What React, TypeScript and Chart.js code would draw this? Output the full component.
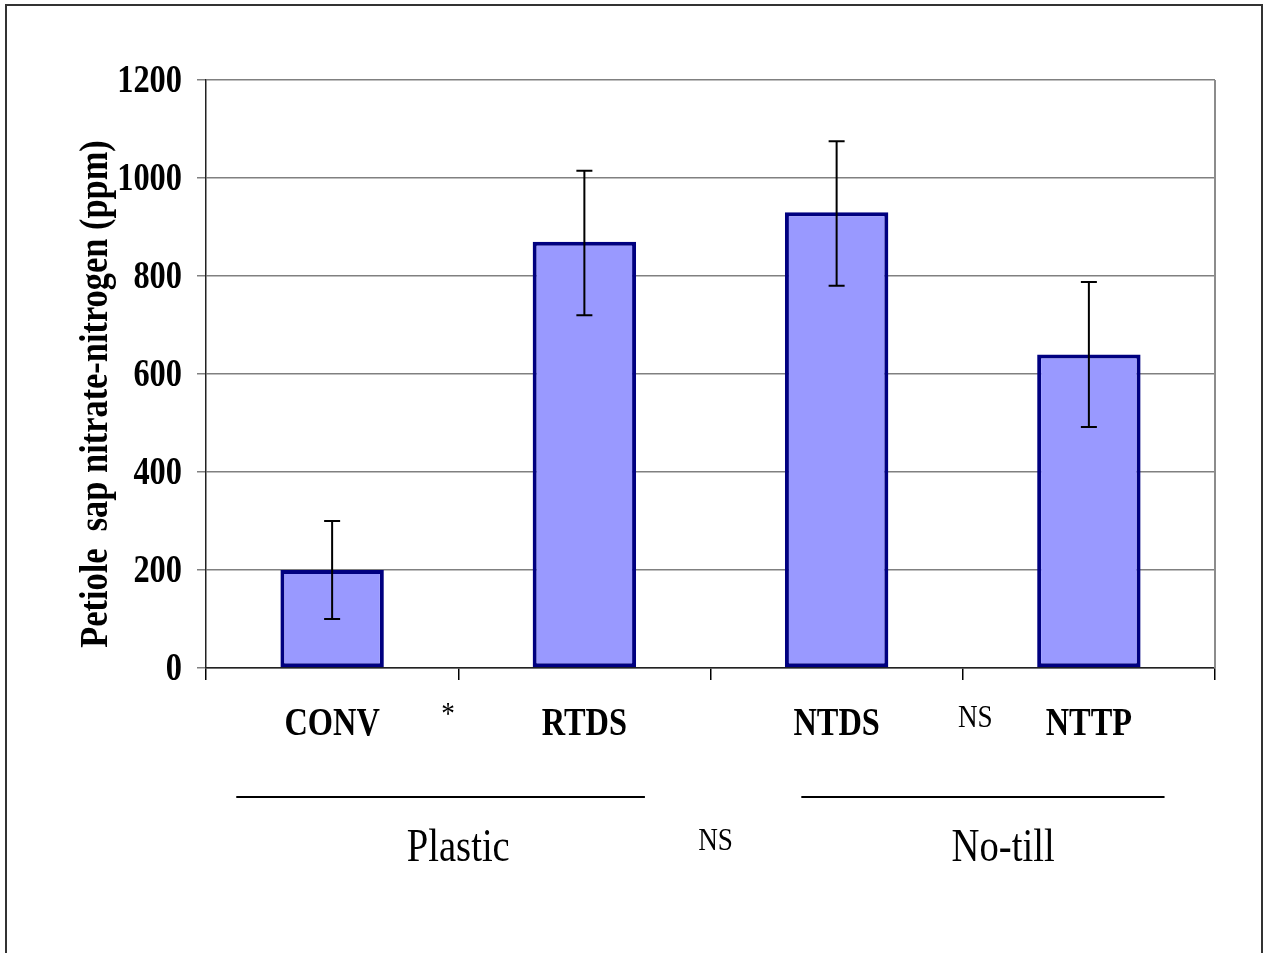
import React, { useEffect, useRef } from "react";
import { Chart, registerables } from "chart.js";

Chart.register(...registerables);

const categories = ["CONV", "RTDS", "NTDS", "NTTP"];
const means = [200, 870, 930, 640];
const errLow = [100, 720, 780, 492];
const errHigh = [300, 1015, 1075, 788];
const yMin = 0;
const yMax = 1200;
const yStep = 200;
const yTitle = "Petiole  sap nitrate-nitrogen (ppm)";
// significance marks placed at category-index positions
const sigMarks = [
  { text: "*", at: 0.46, row: "top" },
  { text: "NS", at: 2.55, row: "top" },
  { text: "NS", at: 1.52, row: "bottom" },
];
// group brackets in category-index units
const groupLabels = ["Plastic", "No-till"];
const groupFrom = [-0.38, 1.86];
const groupTo = [1.24, 3.3];
const groupLabelAt = [0.5, 2.66];

const FONT = '"Liberation Serif", "Times New Roman", serif';

function drawText(
  ctx: CanvasRenderingContext2D,
  s: string,
  x: number,
  y: number,
  size: number,
  bold: boolean,
  align: CanvasTextAlign,
  sx: number,
  rotate = 0
) {
  ctx.save();
  ctx.translate(x, y);
  if (rotate) ctx.rotate(rotate);
  ctx.scale(sx, 1);
  ctx.font = `${bold ? "bold " : ""}${size}px ${FONT}`;
  ctx.textAlign = align;
  ctx.textBaseline = "middle";
  ctx.fillStyle = "#000";
  ctx.fillText(s, 0, 0);
  ctx.restore();
}

const decorPlugin = {
  id: "decor",
  beforeDraw(chart: any) {
    const ctx = chart.ctx as CanvasRenderingContext2D;
    ctx.save();
    ctx.strokeStyle = "#333";
    ctx.lineWidth = 2;
    ctx.strokeRect(6, 5, 1256, 990);
    ctx.restore();
  },
  afterDraw(chart: any) {
    const ctx = chart.ctx as CanvasRenderingContext2D;
    const xs = chart.scales.x;
    const ys = chart.scales.y;
    const area = chart.chartArea;
    // right border of plot
    ctx.save();
    ctx.strokeStyle = "#8c8c8c";
    ctx.lineWidth = 2;
    ctx.beginPath();
    ctx.moveTo(area.right, area.top);
    ctx.lineTo(area.right, area.bottom);
    ctx.stroke();
    ctx.restore();

    // y tick labels
    ys.ticks.forEach((t: any) => {
      const py = ys.getPixelForValue(t.value);
      drawText(ctx, String(t.value), 182, py + 1, 41, true, "right", 0.79);
    });
    // y title
    drawText(ctx, yTitle, 97, 394, 40, true, "center", 0.86, -Math.PI / 2);

    // category labels
    categories.forEach((c, i) => {
      drawText(ctx, c, xs.getPixelForValue(i), 724, 41, true, "center", 0.79);
    });
    // significance marks
    sigMarks.forEach((m) => {
      const px = xs.getPixelForValue(m.at);
      if (m.row === "top") {
        drawText(ctx, m.text, px, m.text === "*" ? 716 : 719, 32, false, "center", 0.85);
      } else {
        drawText(ctx, m.text, px, 842, 32, false, "center", 0.85);
      }
    });
    // group brackets
    ctx.save();
    ctx.strokeStyle = "#000";
    ctx.lineWidth = 2;
    groupLabels.forEach((g, i) => {
      const a = xs.getPixelForValue(groupFrom[i]);
      const b = xs.getPixelForValue(groupTo[i]);
      ctx.beginPath();
      ctx.moveTo(a, 797);
      ctx.lineTo(b, 797);
      ctx.stroke();
      drawText(ctx, g, xs.getPixelForValue(groupLabelAt[i]), 849, 46, false, "center", 0.84);
    });
    ctx.restore();
  },
};

const errorBarPlugin = {
  id: "errorBars",
  afterDatasetsDraw(chart: any) {
    const ctx = chart.ctx as CanvasRenderingContext2D;
    const ys = chart.scales.y;
    const meta = chart.getDatasetMeta(0);
    ctx.save();
    ctx.strokeStyle = "#000";
    ctx.lineWidth = 2;
    meta.data.forEach((bar: any, i: number) => {
      const x = bar.x;
      const lo = ys.getPixelForValue(errLow[i]);
      const hi = ys.getPixelForValue(errHigh[i]);
      ctx.beginPath();
      ctx.moveTo(x, lo);
      ctx.lineTo(x, hi);
      ctx.moveTo(x - 8, lo);
      ctx.lineTo(x + 8, lo);
      ctx.moveTo(x - 8, hi);
      ctx.lineTo(x + 8, hi);
      ctx.stroke();
    });
    ctx.restore();
  },
};

export default function App() {
  const ref = useRef<HTMLCanvasElement | null>(null);
  useEffect(() => {
    if (!ref.current) return;
    const chart = new Chart(ref.current, {
      type: "bar",
      data: {
        labels: categories,
        datasets: [
          {
            data: means,
            backgroundColor: "#9999FF",
            borderColor: "#000080",
            borderWidth: 4,
            borderSkipped: false,
            barPercentage: 0.41,
            categoryPercentage: 1,
          },
        ],
      },
      options: {
        responsive: false,
        animation: false,
        layout: { padding: { top: 80, right: 52, left: 0, bottom: 0 } },
        plugins: { legend: { display: false }, tooltip: { enabled: false } },
        scales: {
          x: {
            type: "category",
            offset: true,
            grid: {
              offset: true,
              drawOnChartArea: false,
              drawTicks: true,
              tickLength: 12,
              color: "#000",
              lineWidth: 1.5,
            },
            border: { display: true, color: "#222", width: 1.5 },
            ticks: { display: false },
            afterFit: (s: any) => {
              s.height = 285;
            },
          },
          y: {
            min: yMin,
            max: yMax,
            ticks: { stepSize: yStep, display: false },
            grid: {
              color: "#808080",
              lineWidth: 1.5,
              tickLength: 9,
              drawTicks: true,
            },
            border: { display: true, color: "#222", width: 1.5 },
            afterFit: (s: any) => {
              s.width = 206;
            },
          },
        },
      },
      plugins: [errorBarPlugin, decorPlugin],
    } as any);
    return () => chart.destroy();
  }, []);
  return (
    <div style={{ position: "fixed", left: 0, top: 0, width: 1267, height: 953, background: "#fff" }}>
      <canvas ref={ref} width={1267} height={953} style={{ display: "block" }} />
    </div>
  );
}
